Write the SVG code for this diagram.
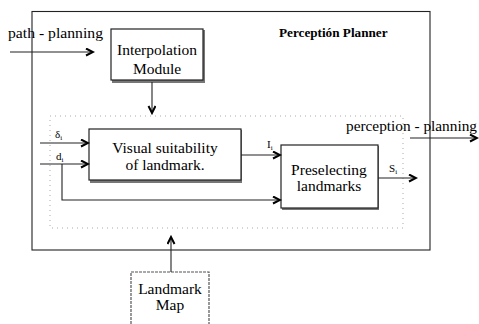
<svg xmlns="http://www.w3.org/2000/svg" width="479" height="324" viewBox="0 0 479 324">
<defs>
<marker id="ah" markerWidth="10" markerHeight="10" refX="8" refY="4" orient="auto" markerUnits="userSpaceOnUse">
<path d="M1,0.5 L8,4 L1,7.5" fill="none" stroke="#000" stroke-width="2"/>
</marker>
</defs>
<style>
text{font-family:"Liberation Serif","Times New Roman",serif;fill:#000}
.lbl{font-size:15.5px}
.box{font-size:15.5px;text-anchor:middle}
.sub{font-size:11px}
.b{fill:#fff;stroke:#222;stroke-width:1.2}
.sh{fill:#777}
.ln{fill:none;stroke:#222;stroke-width:1.1}
.dot{fill:none;stroke:#aaa;stroke-width:1;stroke-dasharray:1 4}
</style>
<rect x="0" y="0" width="479" height="324" fill="#fff"/>
<g id="frame">
<rect x="32" y="11.5" width="398" height="238.5" class="ln"/>
<rect x="50" y="116" width="353" height="112" class="dot"/>
<text x="279" y="37" style="font-size:13.2px;font-weight:bold">Perceptión Planner</text>
</g>
<g id="interpolation">
<rect x="112" y="30" width="93" height="53" class="sh"/>
<rect x="111" y="29" width="92" height="51" class="b"/>
<text class="box" x="157" y="55">Interpolation</text>
<text class="box" x="157" y="74">Module</text>
</g>
<g id="visual">
<rect x="90" y="130" width="152" height="53" class="sh"/>
<rect x="89" y="129" width="152" height="51" class="b"/>
<text class="box" x="165" y="153">Visual suitability</text>
<text class="box" x="165" y="170">of landmark.</text>
</g>
<g id="preselecting">
<rect x="282" y="146" width="97" height="64" class="sh"/>
<rect x="281" y="145" width="97" height="63" class="b"/>
<text class="box" x="329" y="175">Preselecting</text>
<text class="box" x="329" y="191">landmarks</text>
</g>
<g id="landmarkmap">
<rect x="131" y="272" width="78" height="60" class="b" style="stroke:#555;stroke-dasharray:3 1"/>
<text class="box" x="170" y="294">Landmark</text>
<text class="box" x="170" y="310">Map</text>
</g>
<g id="connectors">
<text class="lbl" x="8" y="38" textLength="95" lengthAdjust="spacingAndGlyphs">path - planning</text>
<line x1="10" y1="52" x2="93" y2="52" class="ln" marker-end="url(#ah)"/>
<line x1="152" y1="82" x2="152" y2="113" class="ln" marker-end="url(#ah)"/>
<line x1="40" y1="143" x2="88" y2="143" class="ln" marker-end="url(#ah)"/>
<line x1="40" y1="164" x2="88" y2="164" class="ln" marker-end="url(#ah)"/>
<polyline points="62,164 62,200 280,200" class="ln" marker-end="url(#ah)"/>
<line x1="241" y1="155" x2="280" y2="155" class="ln" marker-end="url(#ah)"/>
<line x1="378" y1="178" x2="416" y2="178" class="ln" marker-end="url(#ah)"/>
<line x1="410" y1="138" x2="477" y2="138" class="ln" marker-end="url(#ah)"/>
<line x1="171" y1="272" x2="171" y2="237" class="ln" marker-end="url(#ah)"/>
<text class="lbl" x="346" y="131" textLength="131" lengthAdjust="spacingAndGlyphs">perception - planning</text>
<text class="sub" x="55" y="138">δ<tspan font-size="7" dy="2">i</tspan></text>
<text class="sub" x="56" y="160">d<tspan font-size="7" dy="2">i</tspan></text>
<text class="sub" x="267" y="148">I<tspan font-size="7" dy="2">i</tspan></text>
<text class="sub" x="389" y="172">S<tspan font-size="7" dy="2">i</tspan></text>
</g>
</svg>
